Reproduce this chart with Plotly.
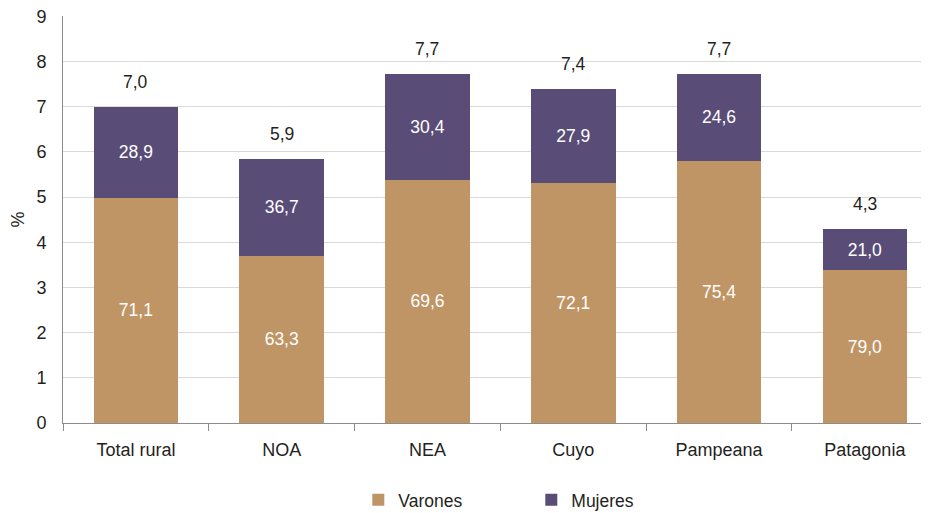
import plotly.graph_objs as go

# regiones
categorias = ["Total rural", "NOA", "NEA", "Cuyo", "Pampeana", "Patagonia"]

# altura de cada tramo (en %)
varones_alto = [4.98, 3.70, 5.38, 5.32, 5.80, 3.38]
mujeres_alto = [2.02, 2.14, 2.34, 2.08, 1.92, 0.91]

# etiquetas: composición por sexo y total
varones_pct = [71.1, 63.3, 69.6, 72.1, 75.4, 79.0]
mujeres_pct = [28.9, 36.7, 30.4, 27.9, 24.6, 21.0]
totales = [7.0, 5.9, 7.7, 7.4, 7.7, 4.3]


def coma(v):
    return f"{v:.1f}".replace(".", ",")


fuente = "Liberation Sans, Arial, sans-serif"

fig = go.Figure()
fig.add_trace(go.Bar(
    x=categorias,
    y=varones_alto,
    name="Varones",
    marker=dict(color="#C09566", line=dict(width=0)),
    text=[coma(v) for v in varones_pct],
    textposition="inside",
    insidetextanchor="middle",
    textfont=dict(color="white", size=17.5, family=fuente),
    hoverinfo="skip",
))
fig.add_trace(go.Bar(
    x=categorias,
    y=mujeres_alto,
    name="Mujeres",
    marker=dict(color="#594D78", line=dict(width=0)),
    text=[coma(v) for v in mujeres_pct],
    textposition="inside",
    insidetextanchor="middle",
    textfont=dict(color="white", size=17.5, family=fuente),
    hoverinfo="skip",
))

# totales por encima de cada barra
for cat, v, m, t in zip(categorias, varones_alto, mujeres_alto, totales):
    fig.add_annotation(
        x=cat, y=v + m, text=coma(t), showarrow=False,
        yshift=25, font=dict(size=17.5, color="#231F20", family=fuente),
    )

# la página deja 8 px de margen alrededor del gráfico
fig.update_layout(
    barmode="stack",
    bargap=0.42,
    width=921,
    height=505,
    margin=dict(l=55, r=0, t=8, b=90),
    plot_bgcolor="white",
    paper_bgcolor="white",
    font=dict(family=fuente, size=17.5, color="#231F20"),
    uniformtext=dict(mode="show", minsize=17),
    legend=dict(
        orientation="h",
        x=0.341, xanchor="left",
        yref="container", y=0.026, yanchor="middle",
        entrywidth=128,
        font=dict(size=17.5, family=fuente),
        traceorder="normal",
        itemsizing="constant",
    ),
)
fig.update_xaxes(
    range=[-0.5, 5.44],
    automargin=False,
    showline=True, linecolor="#8C8C8C", linewidth=1,
    ticks="outside", tickson="boundaries", ticklen=7, tickcolor="#8C8C8C",
    ticklabelstandoff=10,
    tickfont=dict(size=18),
    showgrid=False,
)
fig.update_yaxes(
    range=[0, 9.005], tickmode="array", tickvals=list(range(10)),
    automargin=False,
    title=dict(text="%", font=dict(size=18), standoff=12),
    showline=True, linecolor="#8C8C8C", linewidth=1,
    showgrid=True, gridcolor="#D9D9D9", gridwidth=1,
    ticks="", ticklabelstandoff=12, tickfont=dict(size=18),
    ticklabeloverflow="allow",
    zeroline=False,
)

fig.write_html("out.html")
